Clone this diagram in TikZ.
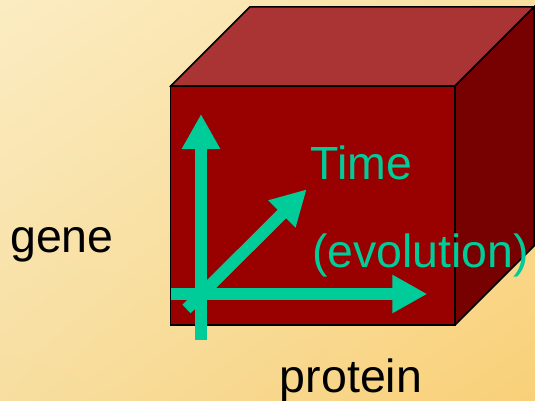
\documentclass[tikz,border=0pt]{standalone}
\usepackage{fontspec}
\setmainfont{Liberation Sans}
\usetikzlibrary{arrows.meta,shadings}
\definecolor{bgA}{RGB}{251,236,194}
\definecolor{bgB}{RGB}{250,224,160}
\definecolor{bgC}{RGB}{247,222,160}
\definecolor{bgD}{RGB}{249,208,120}
\definecolor{cubefront}{RGB}{153,0,0}
\definecolor{cubetop}{RGB}{170,51,51}
\definecolor{cubeside}{RGB}{119,0,0}
\definecolor{axis}{RGB}{0,204,153}
\tikzset{
  face/.style={draw=black,line width=1.5pt,line join=miter},
  axisarrow/.style={draw=axis,line width=12pt,-{Triangle[length=35pt,width=36pt]}},
  lbl/.style={anchor=base west,inner sep=0pt,font=\fontsize{46.5}{50}\selectfont},
}
\begin{document}
\begin{tikzpicture}[x=1pt,y=-1pt]
\useasboundingbox (0,0) rectangle (535,401);
\shade[upper left=bgA,upper right=bgB,lower left=bgC,lower right=bgD] (0,0) rectangle (535,401);
% cube corners
\coordinate (ftl) at (170.7,86);
\coordinate (ftr) at (455,86);
\coordinate (fbr) at (455,325);
\coordinate (fbl) at (170.7,325);
\coordinate (btl) at (249.7,7);
\coordinate (btr) at (534,7);
\coordinate (bbr) at (534,246);
\fill[cubetop] (ftl) -- (btl) -- (btr) -- (ftr) -- cycle;
\fill[cubeside] (ftr) -- (btr) -- (bbr) -- (fbr) -- cycle;
\fill[cubefront] (ftl) -- (ftr) -- (fbr) -- (fbl) -- cycle;
\draw[face] (ftl) -- (btl) -- (btr) -- (ftr) -- cycle;
\draw[face] (ftr) -- (btr) -- (bbr) -- (fbr);
\draw[face] (ftl) -- (ftr) -- (fbr) -- (fbl) -- cycle;
% axes
\coordinate (gtail) at (201,340);
\coordinate (gtip) at (201,114);
\coordinate (ptail) at (170.7,294);
\coordinate (ptip) at (427.3,294);
\coordinate (ttail) at (186.5,309);
\coordinate (ttip) at (306.7,189.3);
\draw[axisarrow] (ttail) -- (ttip);
\draw[axisarrow] (ptail) -- (ptip);
\draw[axisarrow] (gtail) -- (gtip);
% labels
\node[lbl] (gene) at (10,252.7) {gene};
\node[lbl] (protein) at (279.7,392.3) {protein};
\node[lbl,text=axis] (time) at (310.7,179.3) {Time};
\node[lbl,text=axis] (evol) at (311.8,267.5) {(evolution)};
\end{tikzpicture}
\end{document}
